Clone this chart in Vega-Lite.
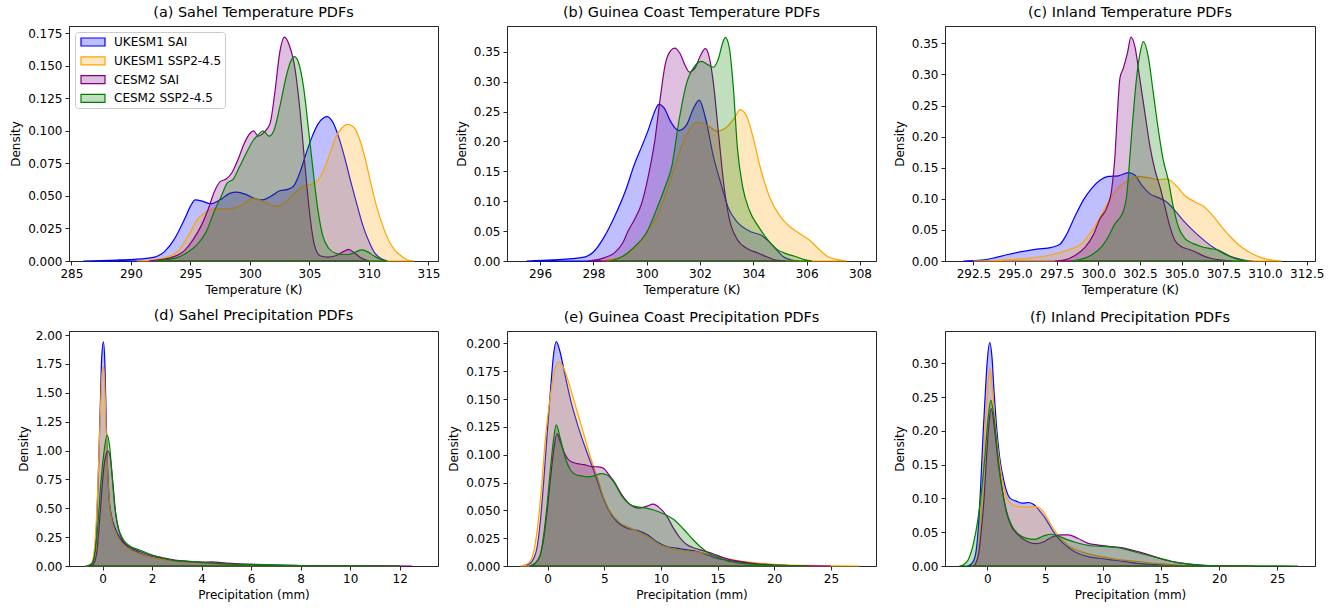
{
"$schema": "https://vega.github.io/schema/vega-lite/v6.json",
"background": "white",
"padding": {"left": 9, "top": 4, "right": 5, "bottom": 5},
"bounds": "flush",
"columns": 3,
"spacing": {"row": 70, "column": 69},
"datasets": {
"a": [
{"series":"UKESM1 SAI","x":286,"y":0},{"series":"UKESM1 SAI","x":287.5,"y":0.0003},{"series":"UKESM1 SAI","x":289,"y":0.0008},{"series":"UKESM1 SAI","x":290.3,"y":0.0013},{"series":"UKESM1 SAI","x":291.3,"y":0.002},{"series":"UKESM1 SAI","x":292,"y":0.003},{"series":"UKESM1 SAI","x":292.8,"y":0.007},{"series":"UKESM1 SAI","x":293.6,"y":0.016},{"series":"UKESM1 SAI","x":294.5,"y":0.032},{"series":"UKESM1 SAI","x":295,"y":0.042},{"series":"UKESM1 SAI","x":295.4,"y":0.047},{"series":"UKESM1 SAI","x":296,"y":0.046},{"series":"UKESM1 SAI","x":296.7,"y":0.044},{"series":"UKESM1 SAI","x":297.5,"y":0.047},{"series":"UKESM1 SAI","x":298.3,"y":0.052},{"series":"UKESM1 SAI","x":298.9,"y":0.053},{"series":"UKESM1 SAI","x":299.7,"y":0.051},{"series":"UKESM1 SAI","x":300.4,"y":0.048},{"series":"UKESM1 SAI","x":301.1,"y":0.047},{"series":"UKESM1 SAI","x":301.8,"y":0.05},{"series":"UKESM1 SAI","x":302.5,"y":0.054},{"series":"UKESM1 SAI","x":303.2,"y":0.055},{"series":"UKESM1 SAI","x":303.7,"y":0.058},{"series":"UKESM1 SAI","x":304.2,"y":0.068},{"series":"UKESM1 SAI","x":304.7,"y":0.082},{"series":"UKESM1 SAI","x":305.2,"y":0.095},{"series":"UKESM1 SAI","x":305.7,"y":0.105},{"series":"UKESM1 SAI","x":306.2,"y":0.11},{"series":"UKESM1 SAI","x":306.5,"y":0.111},{"series":"UKESM1 SAI","x":307,"y":0.106},{"series":"UKESM1 SAI","x":307.5,"y":0.094},{"series":"UKESM1 SAI","x":308,"y":0.078},{"series":"UKESM1 SAI","x":308.5,"y":0.06},{"series":"UKESM1 SAI","x":309,"y":0.043},{"series":"UKESM1 SAI","x":309.5,"y":0.027},{"series":"UKESM1 SAI","x":310,"y":0.015},{"series":"UKESM1 SAI","x":310.5,"y":0.006},{"series":"UKESM1 SAI","x":311,"y":0.002},{"series":"UKESM1 SAI","x":311.6,"y":0},
{"series":"UKESM1 SSP2-4.5","x":290.5,"y":0},{"series":"UKESM1 SSP2-4.5","x":292,"y":0.001},{"series":"UKESM1 SSP2-4.5","x":293,"y":0.003},{"series":"UKESM1 SSP2-4.5","x":294,"y":0.008},{"series":"UKESM1 SSP2-4.5","x":294.8,"y":0.019},{"series":"UKESM1 SSP2-4.5","x":295.6,"y":0.032},{"series":"UKESM1 SSP2-4.5","x":296.4,"y":0.038},{"series":"UKESM1 SSP2-4.5","x":297.2,"y":0.04},{"series":"UKESM1 SSP2-4.5","x":298,"y":0.04},{"series":"UKESM1 SSP2-4.5","x":298.8,"y":0.041},{"series":"UKESM1 SSP2-4.5","x":299.5,"y":0.044},{"series":"UKESM1 SSP2-4.5","x":300.2,"y":0.048},{"series":"UKESM1 SSP2-4.5","x":300.8,"y":0.047},{"series":"UKESM1 SSP2-4.5","x":301.5,"y":0.044},{"series":"UKESM1 SSP2-4.5","x":302.2,"y":0.042},{"series":"UKESM1 SSP2-4.5","x":302.8,"y":0.044},{"series":"UKESM1 SSP2-4.5","x":303.4,"y":0.049},{"series":"UKESM1 SSP2-4.5","x":304,"y":0.054},{"series":"UKESM1 SSP2-4.5","x":304.6,"y":0.058},{"series":"UKESM1 SSP2-4.5","x":305.2,"y":0.059},{"series":"UKESM1 SSP2-4.5","x":305.7,"y":0.062},{"series":"UKESM1 SSP2-4.5","x":306.2,"y":0.07},{"series":"UKESM1 SSP2-4.5","x":306.7,"y":0.082},{"series":"UKESM1 SSP2-4.5","x":307.2,"y":0.095},{"series":"UKESM1 SSP2-4.5","x":307.7,"y":0.102},{"series":"UKESM1 SSP2-4.5","x":308.2,"y":0.105},{"series":"UKESM1 SSP2-4.5","x":308.7,"y":0.103},{"series":"UKESM1 SSP2-4.5","x":309.2,"y":0.094},{"series":"UKESM1 SSP2-4.5","x":309.7,"y":0.078},{"series":"UKESM1 SSP2-4.5","x":310.2,"y":0.058},{"series":"UKESM1 SSP2-4.5","x":310.7,"y":0.04},{"series":"UKESM1 SSP2-4.5","x":311.2,"y":0.026},{"series":"UKESM1 SSP2-4.5","x":311.7,"y":0.015},{"series":"UKESM1 SSP2-4.5","x":312.2,"y":0.008},{"series":"UKESM1 SSP2-4.5","x":312.7,"y":0.004},{"series":"UKESM1 SSP2-4.5","x":313.2,"y":0.001},{"series":"UKESM1 SSP2-4.5","x":313.8,"y":0},
{"series":"CESM2 SAI","x":291.5,"y":0},{"series":"CESM2 SAI","x":292.5,"y":0.001},{"series":"CESM2 SAI","x":293.5,"y":0.003},{"series":"CESM2 SAI","x":294.5,"y":0.008},{"series":"CESM2 SAI","x":295.2,"y":0.016},{"series":"CESM2 SAI","x":295.9,"y":0.027},{"series":"CESM2 SAI","x":296.5,"y":0.04},{"series":"CESM2 SAI","x":297,"y":0.053},{"series":"CESM2 SAI","x":297.5,"y":0.061},{"series":"CESM2 SAI","x":298,"y":0.063},{"series":"CESM2 SAI","x":298.5,"y":0.068},{"series":"CESM2 SAI","x":299,"y":0.078},{"series":"CESM2 SAI","x":299.5,"y":0.09},{"series":"CESM2 SAI","x":300,"y":0.098},{"series":"CESM2 SAI","x":300.3,"y":0.1},{"series":"CESM2 SAI","x":300.7,"y":0.096},{"series":"CESM2 SAI","x":301.2,"y":0.099},{"series":"CESM2 SAI","x":301.7,"y":0.106},{"series":"CESM2 SAI","x":302.1,"y":0.13},{"series":"CESM2 SAI","x":302.5,"y":0.16},{"series":"CESM2 SAI","x":302.9,"y":0.172},{"series":"CESM2 SAI","x":303.3,"y":0.166},{"series":"CESM2 SAI","x":303.8,"y":0.147},{"series":"CESM2 SAI","x":304.2,"y":0.116},{"series":"CESM2 SAI","x":304.6,"y":0.076},{"series":"CESM2 SAI","x":305,"y":0.038},{"series":"CESM2 SAI","x":305.4,"y":0.013},{"series":"CESM2 SAI","x":305.9,"y":0.004},{"series":"CESM2 SAI","x":306.5,"y":0.003},{"series":"CESM2 SAI","x":307.2,"y":0.004},{"series":"CESM2 SAI","x":307.8,"y":0.007},{"series":"CESM2 SAI","x":308.3,"y":0.009},{"series":"CESM2 SAI","x":308.8,"y":0.006},{"series":"CESM2 SAI","x":309.4,"y":0.002},{"series":"CESM2 SAI","x":310,"y":0},
{"series":"CESM2 SSP2-4.5","x":292,"y":0},{"series":"CESM2 SSP2-4.5","x":293,"y":0.001},{"series":"CESM2 SSP2-4.5","x":294,"y":0.003},{"series":"CESM2 SSP2-4.5","x":294.8,"y":0.007},{"series":"CESM2 SSP2-4.5","x":295.6,"y":0.013},{"series":"CESM2 SSP2-4.5","x":296.3,"y":0.022},{"series":"CESM2 SSP2-4.5","x":297,"y":0.038},{"series":"CESM2 SSP2-4.5","x":297.6,"y":0.05},{"series":"CESM2 SSP2-4.5","x":298.1,"y":0.06},{"series":"CESM2 SSP2-4.5","x":298.6,"y":0.063},{"series":"CESM2 SSP2-4.5","x":299.1,"y":0.072},{"series":"CESM2 SSP2-4.5","x":299.7,"y":0.083},{"series":"CESM2 SSP2-4.5","x":300.3,"y":0.093},{"series":"CESM2 SSP2-4.5","x":300.7,"y":0.097},{"series":"CESM2 SSP2-4.5","x":301.1,"y":0.1},{"series":"CESM2 SSP2-4.5","x":301.6,"y":0.096},{"series":"CESM2 SSP2-4.5","x":302,"y":0.1},{"series":"CESM2 SSP2-4.5","x":302.5,"y":0.118},{"series":"CESM2 SSP2-4.5","x":303,"y":0.14},{"series":"CESM2 SSP2-4.5","x":303.4,"y":0.153},{"series":"CESM2 SSP2-4.5","x":303.75,"y":0.157},{"series":"CESM2 SSP2-4.5","x":304.1,"y":0.152},{"series":"CESM2 SSP2-4.5","x":304.5,"y":0.134},{"series":"CESM2 SSP2-4.5","x":304.9,"y":0.103},{"series":"CESM2 SSP2-4.5","x":305.3,"y":0.07},{"series":"CESM2 SSP2-4.5","x":305.7,"y":0.04},{"series":"CESM2 SSP2-4.5","x":306.1,"y":0.02},{"series":"CESM2 SSP2-4.5","x":306.6,"y":0.01},{"series":"CESM2 SSP2-4.5","x":307.2,"y":0.006},{"series":"CESM2 SSP2-4.5","x":307.8,"y":0.005},{"series":"CESM2 SSP2-4.5","x":308.3,"y":0.005},{"series":"CESM2 SSP2-4.5","x":308.9,"y":0.007},{"series":"CESM2 SSP2-4.5","x":309.4,"y":0.0085},{"series":"CESM2 SSP2-4.5","x":309.9,"y":0.007},{"series":"CESM2 SSP2-4.5","x":310.4,"y":0.004},{"series":"CESM2 SSP2-4.5","x":310.9,"y":0.0015},{"series":"CESM2 SSP2-4.5","x":311.5,"y":0}
],
"b": [
{"series":"UKESM1 SAI","x":295.5,"y":0},{"series":"UKESM1 SAI","x":296.5,"y":0.002},{"series":"UKESM1 SAI","x":297.2,"y":0.004},{"series":"UKESM1 SAI","x":297.7,"y":0.007},{"series":"UKESM1 SAI","x":298,"y":0.015},{"series":"UKESM1 SAI","x":298.4,"y":0.04},{"series":"UKESM1 SAI","x":298.8,"y":0.075},{"series":"UKESM1 SAI","x":299.2,"y":0.117},{"series":"UKESM1 SAI","x":299.55,"y":0.163},{"series":"UKESM1 SAI","x":299.8,"y":0.19},{"series":"UKESM1 SAI","x":300.05,"y":0.218},{"series":"UKESM1 SAI","x":300.3,"y":0.25},{"series":"UKESM1 SAI","x":300.45,"y":0.262},{"series":"UKESM1 SAI","x":300.65,"y":0.256},{"series":"UKESM1 SAI","x":300.9,"y":0.233},{"series":"UKESM1 SAI","x":301.2,"y":0.218},{"series":"UKESM1 SAI","x":301.5,"y":0.228},{"series":"UKESM1 SAI","x":301.75,"y":0.255},{"series":"UKESM1 SAI","x":301.97,"y":0.269},{"series":"UKESM1 SAI","x":302.2,"y":0.24},{"series":"UKESM1 SAI","x":302.5,"y":0.175},{"series":"UKESM1 SAI","x":302.8,"y":0.127},{"series":"UKESM1 SAI","x":303.05,"y":0.09},{"series":"UKESM1 SAI","x":303.4,"y":0.065},{"series":"UKESM1 SAI","x":303.9,"y":0.049},{"series":"UKESM1 SAI","x":304.3,"y":0.043},{"series":"UKESM1 SAI","x":304.6,"y":0.032},{"series":"UKESM1 SAI","x":304.85,"y":0.02},{"series":"UKESM1 SAI","x":305.1,"y":0.008},{"series":"UKESM1 SAI","x":305.4,"y":0.002},{"series":"UKESM1 SAI","x":305.7,"y":0},
{"series":"UKESM1 SSP2-4.5","x":298.3,"y":0},{"series":"UKESM1 SSP2-4.5","x":298.7,"y":0.003},{"series":"UKESM1 SSP2-4.5","x":299.1,"y":0.007},{"series":"UKESM1 SSP2-4.5","x":299.6,"y":0.025},{"series":"UKESM1 SSP2-4.5","x":300,"y":0.048},{"series":"UKESM1 SSP2-4.5","x":300.3,"y":0.068},{"series":"UKESM1 SSP2-4.5","x":300.7,"y":0.11},{"series":"UKESM1 SSP2-4.5","x":301.1,"y":0.165},{"series":"UKESM1 SSP2-4.5","x":301.5,"y":0.212},{"series":"UKESM1 SSP2-4.5","x":301.9,"y":0.232},{"series":"UKESM1 SSP2-4.5","x":302.3,"y":0.226},{"series":"UKESM1 SSP2-4.5","x":302.65,"y":0.217},{"series":"UKESM1 SSP2-4.5","x":303,"y":0.224},{"series":"UKESM1 SSP2-4.5","x":303.3,"y":0.24},{"series":"UKESM1 SSP2-4.5","x":303.5,"y":0.253},{"series":"UKESM1 SSP2-4.5","x":303.75,"y":0.242},{"series":"UKESM1 SSP2-4.5","x":304,"y":0.205},{"series":"UKESM1 SSP2-4.5","x":304.25,"y":0.158},{"series":"UKESM1 SSP2-4.5","x":304.6,"y":0.108},{"series":"UKESM1 SSP2-4.5","x":305,"y":0.075},{"series":"UKESM1 SSP2-4.5","x":305.35,"y":0.058},{"series":"UKESM1 SSP2-4.5","x":305.7,"y":0.047},{"series":"UKESM1 SSP2-4.5","x":306.1,"y":0.035},{"series":"UKESM1 SSP2-4.5","x":306.45,"y":0.02},{"series":"UKESM1 SSP2-4.5","x":306.8,"y":0.007},{"series":"UKESM1 SSP2-4.5","x":307.2,"y":0.002},{"series":"UKESM1 SSP2-4.5","x":307.5,"y":0},
{"series":"CESM2 SAI","x":297.8,"y":0},{"series":"CESM2 SAI","x":298.3,"y":0.004},{"series":"CESM2 SAI","x":298.8,"y":0.014},{"series":"CESM2 SAI","x":299.1,"y":0.03},{"series":"CESM2 SAI","x":299.3,"y":0.05},{"series":"CESM2 SAI","x":299.55,"y":0.07},{"series":"CESM2 SAI","x":299.8,"y":0.095},{"series":"CESM2 SAI","x":300.05,"y":0.14},{"series":"CESM2 SAI","x":300.3,"y":0.2},{"series":"CESM2 SAI","x":300.5,"y":0.27},{"series":"CESM2 SAI","x":300.7,"y":0.33},{"series":"CESM2 SAI","x":300.9,"y":0.352},{"series":"CESM2 SAI","x":301.05,"y":0.356},{"series":"CESM2 SAI","x":301.25,"y":0.347},{"series":"CESM2 SAI","x":301.45,"y":0.326},{"series":"CESM2 SAI","x":301.6,"y":0.316},{"series":"CESM2 SAI","x":301.8,"y":0.322},{"series":"CESM2 SAI","x":302,"y":0.342},{"series":"CESM2 SAI","x":302.2,"y":0.355},{"series":"CESM2 SAI","x":302.35,"y":0.34},{"series":"CESM2 SAI","x":302.5,"y":0.298},{"series":"CESM2 SAI","x":302.7,"y":0.21},{"series":"CESM2 SAI","x":302.9,"y":0.125},{"series":"CESM2 SAI","x":303.1,"y":0.07},{"series":"CESM2 SAI","x":303.4,"y":0.036},{"series":"CESM2 SAI","x":303.8,"y":0.02},{"series":"CESM2 SAI","x":304.2,"y":0.013},{"series":"CESM2 SAI","x":304.5,"y":0.007},{"series":"CESM2 SAI","x":304.9,"y":0.001},{"series":"CESM2 SAI","x":305.2,"y":0},
{"series":"CESM2 SSP2-4.5","x":298.6,"y":0},{"series":"CESM2 SSP2-4.5","x":299.1,"y":0.008},{"series":"CESM2 SSP2-4.5","x":299.5,"y":0.022},{"series":"CESM2 SSP2-4.5","x":300,"y":0.048},{"series":"CESM2 SSP2-4.5","x":300.4,"y":0.09},{"series":"CESM2 SSP2-4.5","x":300.7,"y":0.125},{"series":"CESM2 SSP2-4.5","x":300.95,"y":0.16},{"series":"CESM2 SSP2-4.5","x":301.2,"y":0.232},{"series":"CESM2 SSP2-4.5","x":301.5,"y":0.298},{"series":"CESM2 SSP2-4.5","x":301.8,"y":0.326},{"series":"CESM2 SSP2-4.5","x":302.05,"y":0.334},{"series":"CESM2 SSP2-4.5","x":302.3,"y":0.328},{"series":"CESM2 SSP2-4.5","x":302.5,"y":0.324},{"series":"CESM2 SSP2-4.5","x":302.7,"y":0.34},{"series":"CESM2 SSP2-4.5","x":302.85,"y":0.365},{"series":"CESM2 SSP2-4.5","x":302.95,"y":0.374},{"series":"CESM2 SSP2-4.5","x":303.1,"y":0.356},{"series":"CESM2 SSP2-4.5","x":303.25,"y":0.29},{"series":"CESM2 SSP2-4.5","x":303.4,"y":0.19},{"series":"CESM2 SSP2-4.5","x":303.6,"y":0.124},{"series":"CESM2 SSP2-4.5","x":303.85,"y":0.085},{"series":"CESM2 SSP2-4.5","x":304.2,"y":0.057},{"series":"CESM2 SSP2-4.5","x":304.55,"y":0.035},{"series":"CESM2 SSP2-4.5","x":304.9,"y":0.019},{"series":"CESM2 SSP2-4.5","x":305.25,"y":0.012},{"series":"CESM2 SSP2-4.5","x":305.55,"y":0.008},{"series":"CESM2 SSP2-4.5","x":305.95,"y":0.002},{"series":"CESM2 SSP2-4.5","x":306.2,"y":0}
],
"c": [
{"series":"UKESM1 SAI","x":291.9,"y":0},{"series":"UKESM1 SAI","x":292.8,"y":0.001},{"series":"UKESM1 SAI","x":293.6,"y":0.004},{"series":"UKESM1 SAI","x":294.5,"y":0.01},{"series":"UKESM1 SAI","x":295.4,"y":0.015},{"series":"UKESM1 SAI","x":296.3,"y":0.019},{"series":"UKESM1 SAI","x":297.2,"y":0.022},{"series":"UKESM1 SAI","x":297.7,"y":0.027},{"series":"UKESM1 SAI","x":298.1,"y":0.043},{"series":"UKESM1 SAI","x":298.6,"y":0.072},{"series":"UKESM1 SAI","x":299.1,"y":0.098},{"series":"UKESM1 SAI","x":299.6,"y":0.117},{"series":"UKESM1 SAI","x":300.1,"y":0.13},{"series":"UKESM1 SAI","x":300.6,"y":0.136},{"series":"UKESM1 SAI","x":301.2,"y":0.137},{"series":"UKESM1 SAI","x":301.8,"y":0.142},{"series":"UKESM1 SAI","x":302.2,"y":0.138},{"series":"UKESM1 SAI","x":302.6,"y":0.122},{"series":"UKESM1 SAI","x":303.1,"y":0.108},{"series":"UKESM1 SAI","x":303.6,"y":0.102},{"series":"UKESM1 SAI","x":304.1,"y":0.095},{"series":"UKESM1 SAI","x":304.6,"y":0.081},{"series":"UKESM1 SAI","x":305.2,"y":0.062},{"series":"UKESM1 SAI","x":305.8,"y":0.046},{"series":"UKESM1 SAI","x":306.4,"y":0.032},{"series":"UKESM1 SAI","x":307,"y":0.02},{"series":"UKESM1 SAI","x":307.6,"y":0.011},{"series":"UKESM1 SAI","x":308.2,"y":0.005},{"series":"UKESM1 SAI","x":308.8,"y":0.001},{"series":"UKESM1 SAI","x":309.3,"y":0},
{"series":"UKESM1 SSP2-4.5","x":292.5,"y":0},{"series":"UKESM1 SSP2-4.5","x":294.5,"y":0.002},{"series":"UKESM1 SSP2-4.5","x":296,"y":0.005},{"series":"UKESM1 SSP2-4.5","x":297.2,"y":0.01},{"series":"UKESM1 SSP2-4.5","x":298.2,"y":0.018},{"series":"UKESM1 SSP2-4.5","x":299,"y":0.028},{"series":"UKESM1 SSP2-4.5","x":299.6,"y":0.048},{"series":"UKESM1 SSP2-4.5","x":300.2,"y":0.075},{"series":"UKESM1 SSP2-4.5","x":300.7,"y":0.1},{"series":"UKESM1 SSP2-4.5","x":301.2,"y":0.118},{"series":"UKESM1 SSP2-4.5","x":301.8,"y":0.13},{"series":"UKESM1 SSP2-4.5","x":302.4,"y":0.136},{"series":"UKESM1 SSP2-4.5","x":303,"y":0.134},{"series":"UKESM1 SSP2-4.5","x":303.6,"y":0.131},{"series":"UKESM1 SSP2-4.5","x":304.1,"y":0.132},{"series":"UKESM1 SSP2-4.5","x":304.6,"y":0.123},{"series":"UKESM1 SSP2-4.5","x":305.2,"y":0.105},{"series":"UKESM1 SSP2-4.5","x":305.8,"y":0.095},{"series":"UKESM1 SSP2-4.5","x":306.3,"y":0.088},{"series":"UKESM1 SSP2-4.5","x":306.8,"y":0.075},{"series":"UKESM1 SSP2-4.5","x":307.4,"y":0.055},{"series":"UKESM1 SSP2-4.5","x":308,"y":0.037},{"series":"UKESM1 SSP2-4.5","x":308.6,"y":0.022},{"series":"UKESM1 SSP2-4.5","x":309.2,"y":0.012},{"series":"UKESM1 SSP2-4.5","x":309.8,"y":0.005},{"series":"UKESM1 SSP2-4.5","x":310.5,"y":0.001},{"series":"UKESM1 SSP2-4.5","x":311,"y":0},
{"series":"CESM2 SAI","x":297.4,"y":0},{"series":"CESM2 SAI","x":298,"y":0.002},{"series":"CESM2 SAI","x":298.6,"y":0.009},{"series":"CESM2 SAI","x":299.2,"y":0.022},{"series":"CESM2 SAI","x":299.7,"y":0.042},{"series":"CESM2 SAI","x":300.1,"y":0.068},{"series":"CESM2 SAI","x":300.5,"y":0.085},{"series":"CESM2 SAI","x":300.8,"y":0.115},{"series":"CESM2 SAI","x":301,"y":0.17},{"series":"CESM2 SAI","x":301.15,"y":0.24},{"series":"CESM2 SAI","x":301.3,"y":0.295},{"series":"CESM2 SAI","x":301.5,"y":0.31},{"series":"CESM2 SAI","x":301.75,"y":0.335},{"series":"CESM2 SAI","x":301.96,"y":0.36},{"series":"CESM2 SAI","x":302.2,"y":0.344},{"series":"CESM2 SAI","x":302.5,"y":0.291},{"series":"CESM2 SAI","x":302.8,"y":0.237},{"series":"CESM2 SAI","x":303.1,"y":0.184},{"series":"CESM2 SAI","x":303.4,"y":0.146},{"series":"CESM2 SAI","x":303.7,"y":0.119},{"series":"CESM2 SAI","x":304,"y":0.087},{"series":"CESM2 SAI","x":304.3,"y":0.055},{"series":"CESM2 SAI","x":304.6,"y":0.033},{"series":"CESM2 SAI","x":305,"y":0.023},{"series":"CESM2 SAI","x":305.4,"y":0.019},{"series":"CESM2 SAI","x":305.8,"y":0.015},{"series":"CESM2 SAI","x":306.2,"y":0.0095},{"series":"CESM2 SAI","x":306.8,"y":0.004},{"series":"CESM2 SAI","x":307.4,"y":0.0015},{"series":"CESM2 SAI","x":308,"y":0},
{"series":"CESM2 SSP2-4.5","x":298.4,"y":0},{"series":"CESM2 SSP2-4.5","x":299,"y":0.003},{"series":"CESM2 SSP2-4.5","x":299.6,"y":0.0095},{"series":"CESM2 SSP2-4.5","x":300.2,"y":0.023},{"series":"CESM2 SSP2-4.5","x":300.6,"y":0.039},{"series":"CESM2 SSP2-4.5","x":301,"y":0.06},{"series":"CESM2 SSP2-4.5","x":301.3,"y":0.07},{"series":"CESM2 SSP2-4.5","x":301.5,"y":0.08},{"series":"CESM2 SSP2-4.5","x":301.7,"y":0.105},{"series":"CESM2 SSP2-4.5","x":301.9,"y":0.17},{"series":"CESM2 SSP2-4.5","x":302.1,"y":0.238},{"series":"CESM2 SSP2-4.5","x":302.3,"y":0.296},{"series":"CESM2 SSP2-4.5","x":302.5,"y":0.334},{"series":"CESM2 SSP2-4.5","x":302.7,"y":0.353},{"series":"CESM2 SSP2-4.5","x":303,"y":0.328},{"series":"CESM2 SSP2-4.5","x":303.3,"y":0.27},{"series":"CESM2 SSP2-4.5","x":303.6,"y":0.211},{"series":"CESM2 SSP2-4.5","x":303.9,"y":0.162},{"series":"CESM2 SSP2-4.5","x":304.2,"y":0.13},{"series":"CESM2 SSP2-4.5","x":304.5,"y":0.087},{"series":"CESM2 SSP2-4.5","x":304.8,"y":0.055},{"series":"CESM2 SSP2-4.5","x":305.2,"y":0.036},{"series":"CESM2 SSP2-4.5","x":305.7,"y":0.028},{"series":"CESM2 SSP2-4.5","x":306.2,"y":0.023},{"series":"CESM2 SSP2-4.5","x":306.7,"y":0.02},{"series":"CESM2 SSP2-4.5","x":307.2,"y":0.0175},{"series":"CESM2 SSP2-4.5","x":307.6,"y":0.012},{"series":"CESM2 SSP2-4.5","x":308,"y":0.006},{"series":"CESM2 SSP2-4.5","x":308.6,"y":0.0015},{"series":"CESM2 SSP2-4.5","x":309,"y":0}
],
"d": [
{"series":"UKESM1 SAI","x":-0.7,"y":0},{"series":"UKESM1 SAI","x":-0.5,"y":0.005},{"series":"UKESM1 SAI","x":-0.38,"y":0.04},{"series":"UKESM1 SAI","x":-0.27,"y":0.25},{"series":"UKESM1 SAI","x":-0.18,"y":0.75},{"series":"UKESM1 SAI","x":-0.1,"y":1.35},{"series":"UKESM1 SAI","x":-0.04,"y":1.8},{"series":"UKESM1 SAI","x":0.03,"y":1.94},{"series":"UKESM1 SAI","x":0.09,"y":1.75},{"series":"UKESM1 SAI","x":0.14,"y":1.3},{"series":"UKESM1 SAI","x":0.19,"y":0.9},{"series":"UKESM1 SAI","x":0.25,"y":0.62},{"series":"UKESM1 SAI","x":0.35,"y":0.44},{"series":"UKESM1 SAI","x":0.5,"y":0.33},{"series":"UKESM1 SAI","x":0.7,"y":0.24},{"series":"UKESM1 SAI","x":1,"y":0.17},{"series":"UKESM1 SAI","x":1.5,"y":0.11},{"series":"UKESM1 SAI","x":2,"y":0.08},{"series":"UKESM1 SAI","x":2.5,"y":0.06},{"series":"UKESM1 SAI","x":3,"y":0.045},{"series":"UKESM1 SAI","x":3.5,"y":0.038},{"series":"UKESM1 SAI","x":4,"y":0.03},{"series":"UKESM1 SAI","x":4.5,"y":0.024},{"series":"UKESM1 SAI","x":5,"y":0.018},{"series":"UKESM1 SAI","x":6,"y":0.01},{"series":"UKESM1 SAI","x":7,"y":0.005},{"series":"UKESM1 SAI","x":8,"y":0.002},{"series":"UKESM1 SAI","x":10,"y":0.0005},{"series":"UKESM1 SAI","x":12,"y":0},
{"series":"UKESM1 SSP2-4.5","x":-0.7,"y":0},{"series":"UKESM1 SSP2-4.5","x":-0.5,"y":0.008},{"series":"UKESM1 SSP2-4.5","x":-0.4,"y":0.05},{"series":"UKESM1 SSP2-4.5","x":-0.29,"y":0.27},{"series":"UKESM1 SSP2-4.5","x":-0.19,"y":0.72},{"series":"UKESM1 SSP2-4.5","x":-0.1,"y":1.3},{"series":"UKESM1 SSP2-4.5","x":-0.03,"y":1.65},{"series":"UKESM1 SSP2-4.5","x":0.02,"y":1.726},{"series":"UKESM1 SSP2-4.5","x":0.08,"y":1.6},{"series":"UKESM1 SSP2-4.5","x":0.14,"y":1.2},{"series":"UKESM1 SSP2-4.5","x":0.2,"y":0.82},{"series":"UKESM1 SSP2-4.5","x":0.27,"y":0.56},{"series":"UKESM1 SSP2-4.5","x":0.37,"y":0.4},{"series":"UKESM1 SSP2-4.5","x":0.5,"y":0.31},{"series":"UKESM1 SSP2-4.5","x":0.7,"y":0.22},{"series":"UKESM1 SSP2-4.5","x":1,"y":0.16},{"series":"UKESM1 SSP2-4.5","x":1.5,"y":0.105},{"series":"UKESM1 SSP2-4.5","x":2,"y":0.075},{"series":"UKESM1 SSP2-4.5","x":2.5,"y":0.055},{"series":"UKESM1 SSP2-4.5","x":3,"y":0.042},{"series":"UKESM1 SSP2-4.5","x":3.5,"y":0.034},{"series":"UKESM1 SSP2-4.5","x":4,"y":0.028},{"series":"UKESM1 SSP2-4.5","x":4.5,"y":0.022},{"series":"UKESM1 SSP2-4.5","x":5,"y":0.016},{"series":"UKESM1 SSP2-4.5","x":6,"y":0.009},{"series":"UKESM1 SSP2-4.5","x":7,"y":0.004},{"series":"UKESM1 SSP2-4.5","x":8,"y":0.0015},{"series":"UKESM1 SSP2-4.5","x":10,"y":0.0004},{"series":"UKESM1 SSP2-4.5","x":12,"y":0},
{"series":"CESM2 SAI","x":-0.6,"y":0},{"series":"CESM2 SAI","x":-0.4,"y":0.01},{"series":"CESM2 SAI","x":-0.25,"y":0.1},{"series":"CESM2 SAI","x":-0.12,"y":0.4},{"series":"CESM2 SAI","x":0,"y":0.75},{"series":"CESM2 SAI","x":0.1,"y":0.93},{"series":"CESM2 SAI","x":0.22,"y":0.996},{"series":"CESM2 SAI","x":0.32,"y":0.92},{"series":"CESM2 SAI","x":0.42,"y":0.7},{"series":"CESM2 SAI","x":0.52,"y":0.47},{"series":"CESM2 SAI","x":0.65,"y":0.31},{"series":"CESM2 SAI","x":0.85,"y":0.21},{"series":"CESM2 SAI","x":1.1,"y":0.165},{"series":"CESM2 SAI","x":1.5,"y":0.125},{"series":"CESM2 SAI","x":2,"y":0.092},{"series":"CESM2 SAI","x":2.5,"y":0.068},{"series":"CESM2 SAI","x":3,"y":0.048},{"series":"CESM2 SAI","x":3.5,"y":0.038},{"series":"CESM2 SAI","x":4,"y":0.034},{"series":"CESM2 SAI","x":4.4,"y":0.035},{"series":"CESM2 SAI","x":5,"y":0.025},{"series":"CESM2 SAI","x":6,"y":0.014},{"series":"CESM2 SAI","x":7,"y":0.008},{"series":"CESM2 SAI","x":8,"y":0.004},{"series":"CESM2 SAI","x":9,"y":0.002},{"series":"CESM2 SAI","x":10,"y":0.001},{"series":"CESM2 SAI","x":12.5,"y":0},
{"series":"CESM2 SSP2-4.5","x":-0.65,"y":0},{"series":"CESM2 SSP2-4.5","x":-0.45,"y":0.02},{"series":"CESM2 SSP2-4.5","x":-0.33,"y":0.09},{"series":"CESM2 SSP2-4.5","x":-0.2,"y":0.34},{"series":"CESM2 SSP2-4.5","x":-0.08,"y":0.7},{"series":"CESM2 SSP2-4.5","x":0.05,"y":0.98},{"series":"CESM2 SSP2-4.5","x":0.18,"y":1.134},{"series":"CESM2 SSP2-4.5","x":0.28,"y":1.04},{"series":"CESM2 SSP2-4.5","x":0.38,"y":0.79},{"series":"CESM2 SSP2-4.5","x":0.48,"y":0.53},{"series":"CESM2 SSP2-4.5","x":0.6,"y":0.36},{"series":"CESM2 SSP2-4.5","x":0.8,"y":0.24},{"series":"CESM2 SSP2-4.5","x":1.05,"y":0.18},{"series":"CESM2 SSP2-4.5","x":1.5,"y":0.138},{"series":"CESM2 SSP2-4.5","x":2,"y":0.095},{"series":"CESM2 SSP2-4.5","x":2.5,"y":0.065},{"series":"CESM2 SSP2-4.5","x":3,"y":0.045},{"series":"CESM2 SSP2-4.5","x":3.4,"y":0.042},{"series":"CESM2 SSP2-4.5","x":3.8,"y":0.036},{"series":"CESM2 SSP2-4.5","x":4.4,"y":0.025},{"series":"CESM2 SSP2-4.5","x":5,"y":0.018},{"series":"CESM2 SSP2-4.5","x":5.7,"y":0.014},{"series":"CESM2 SSP2-4.5","x":6.2,"y":0.015},{"series":"CESM2 SSP2-4.5","x":6.8,"y":0.01},{"series":"CESM2 SSP2-4.5","x":7.5,"y":0.005},{"series":"CESM2 SSP2-4.5","x":8.5,"y":0.002},{"series":"CESM2 SSP2-4.5","x":10,"y":0.0005},{"series":"CESM2 SSP2-4.5","x":12,"y":0}
],
"e": [
{"series":"UKESM1 SAI","x":-2.3,"y":0},{"series":"UKESM1 SAI","x":-1.8,"y":0.001},{"series":"UKESM1 SAI","x":-1.4,"y":0.004},{"series":"UKESM1 SAI","x":-0.95,"y":0.016},{"series":"UKESM1 SAI","x":-0.65,"y":0.04},{"series":"UKESM1 SAI","x":-0.35,"y":0.076},{"series":"UKESM1 SAI","x":-0.05,"y":0.118},{"series":"UKESM1 SAI","x":0.25,"y":0.158},{"series":"UKESM1 SAI","x":0.5,"y":0.188},{"series":"UKESM1 SAI","x":0.76,"y":0.2015},{"series":"UKESM1 SAI","x":1.05,"y":0.194},{"series":"UKESM1 SAI","x":1.5,"y":0.173},{"series":"UKESM1 SAI","x":2.1,"y":0.146},{"series":"UKESM1 SAI","x":2.7,"y":0.125},{"series":"UKESM1 SAI","x":3.4,"y":0.104},{"series":"UKESM1 SAI","x":4.2,"y":0.082},{"series":"UKESM1 SAI","x":4.8,"y":0.064},{"series":"UKESM1 SAI","x":5.3,"y":0.052},{"series":"UKESM1 SAI","x":6.1,"y":0.04},{"series":"UKESM1 SAI","x":7,"y":0.034},{"series":"UKESM1 SAI","x":7.9,"y":0.032},{"series":"UKESM1 SAI","x":8.8,"y":0.028},{"series":"UKESM1 SAI","x":9.6,"y":0.022},{"series":"UKESM1 SAI","x":10.5,"y":0.0175},{"series":"UKESM1 SAI","x":11.4,"y":0.016},{"series":"UKESM1 SAI","x":12.3,"y":0.0145},{"series":"UKESM1 SAI","x":13.2,"y":0.013},{"series":"UKESM1 SAI","x":14.1,"y":0.01},{"series":"UKESM1 SAI","x":14.9,"y":0.007},{"series":"UKESM1 SAI","x":15.8,"y":0.0054},{"series":"UKESM1 SAI","x":17,"y":0.0034},{"series":"UKESM1 SAI","x":18.2,"y":0.002},{"series":"UKESM1 SAI","x":19.4,"y":0.001},{"series":"UKESM1 SAI","x":21,"y":0.0004},{"series":"UKESM1 SAI","x":23,"y":0.0001},{"series":"UKESM1 SAI","x":24.5,"y":0},
{"series":"UKESM1 SSP2-4.5","x":-2.4,"y":0},{"series":"UKESM1 SSP2-4.5","x":-1.95,"y":0.001},{"series":"UKESM1 SSP2-4.5","x":-1.5,"y":0.005},{"series":"UKESM1 SSP2-4.5","x":-1.1,"y":0.02},{"series":"UKESM1 SSP2-4.5","x":-0.8,"y":0.043},{"series":"UKESM1 SSP2-4.5","x":-0.5,"y":0.076},{"series":"UKESM1 SSP2-4.5","x":-0.2,"y":0.115},{"series":"UKESM1 SSP2-4.5","x":0.2,"y":0.15},{"series":"UKESM1 SSP2-4.5","x":0.6,"y":0.175},{"series":"UKESM1 SSP2-4.5","x":0.97,"y":0.1836},{"series":"UKESM1 SSP2-4.5","x":1.4,"y":0.178},{"series":"UKESM1 SSP2-4.5","x":2,"y":0.16},{"series":"UKESM1 SSP2-4.5","x":2.6,"y":0.139},{"series":"UKESM1 SSP2-4.5","x":3.2,"y":0.118},{"series":"UKESM1 SSP2-4.5","x":3.8,"y":0.097},{"series":"UKESM1 SSP2-4.5","x":4.4,"y":0.079},{"series":"UKESM1 SSP2-4.5","x":4.95,"y":0.061},{"series":"UKESM1 SSP2-4.5","x":5.5,"y":0.049},{"series":"UKESM1 SSP2-4.5","x":6.4,"y":0.0385},{"series":"UKESM1 SSP2-4.5","x":7.3,"y":0.034},{"series":"UKESM1 SSP2-4.5","x":8.2,"y":0.03},{"series":"UKESM1 SSP2-4.5","x":9.1,"y":0.025},{"series":"UKESM1 SSP2-4.5","x":9.95,"y":0.019},{"series":"UKESM1 SSP2-4.5","x":10.8,"y":0.016},{"series":"UKESM1 SSP2-4.5","x":11.7,"y":0.0144},{"series":"UKESM1 SSP2-4.5","x":12.9,"y":0.013},{"series":"UKESM1 SSP2-4.5","x":13.8,"y":0.0115},{"series":"UKESM1 SSP2-4.5","x":14.7,"y":0.009},{"series":"UKESM1 SSP2-4.5","x":15.8,"y":0.0066},{"series":"UKESM1 SSP2-4.5","x":17,"y":0.0045},{"series":"UKESM1 SSP2-4.5","x":18.2,"y":0.003},{"series":"UKESM1 SSP2-4.5","x":19.4,"y":0.002},{"series":"UKESM1 SSP2-4.5","x":21,"y":0.001},{"series":"UKESM1 SSP2-4.5","x":23,"y":0.0005},{"series":"UKESM1 SSP2-4.5","x":25,"y":0.0002},{"series":"UKESM1 SSP2-4.5","x":27.5,"y":0},
{"series":"CESM2 SAI","x":-1.6,"y":0},{"series":"CESM2 SAI","x":-1.1,"y":0.0025},{"series":"CESM2 SAI","x":-0.65,"y":0.01},{"series":"CESM2 SAI","x":-0.35,"y":0.025},{"series":"CESM2 SAI","x":-0.05,"y":0.049},{"series":"CESM2 SAI","x":0.25,"y":0.079},{"series":"CESM2 SAI","x":0.52,"y":0.103},{"series":"CESM2 SAI","x":0.82,"y":0.119},{"series":"CESM2 SAI","x":1.1,"y":0.112},{"series":"CESM2 SAI","x":1.55,"y":0.1},{"series":"CESM2 SAI","x":2,"y":0.094},{"series":"CESM2 SAI","x":2.6,"y":0.092},{"series":"CESM2 SAI","x":3.2,"y":0.091},{"series":"CESM2 SAI","x":3.9,"y":0.0893},{"series":"CESM2 SAI","x":4.5,"y":0.089},{"series":"CESM2 SAI","x":4.95,"y":0.0875},{"series":"CESM2 SAI","x":5.4,"y":0.082},{"series":"CESM2 SAI","x":5.85,"y":0.076},{"series":"CESM2 SAI","x":6.55,"y":0.064},{"series":"CESM2 SAI","x":7.3,"y":0.055},{"series":"CESM2 SAI","x":8,"y":0.052},{"series":"CESM2 SAI","x":8.7,"y":0.0535},{"series":"CESM2 SAI","x":9.3,"y":0.0555},{"series":"CESM2 SAI","x":9.9,"y":0.052},{"series":"CESM2 SAI","x":10.5,"y":0.045},{"series":"CESM2 SAI","x":11.1,"y":0.034},{"series":"CESM2 SAI","x":11.7,"y":0.025},{"series":"CESM2 SAI","x":12.3,"y":0.019},{"series":"CESM2 SAI","x":13,"y":0.016},{"series":"CESM2 SAI","x":13.8,"y":0.0135},{"series":"CESM2 SAI","x":14.6,"y":0.011},{"series":"CESM2 SAI","x":15.5,"y":0.0075},{"series":"CESM2 SAI","x":16.5,"y":0.0048},{"series":"CESM2 SAI","x":17.5,"y":0.0033},{"series":"CESM2 SAI","x":18.5,"y":0.002},{"series":"CESM2 SAI","x":19.5,"y":0.0012},{"series":"CESM2 SAI","x":21,"y":0.0005},{"series":"CESM2 SAI","x":23,"y":0.0001},{"series":"CESM2 SAI","x":25,"y":0},
{"series":"CESM2 SSP2-4.5","x":-1.6,"y":0},{"series":"CESM2 SSP2-4.5","x":-1.1,"y":0.0025},{"series":"CESM2 SSP2-4.5","x":-0.65,"y":0.01},{"series":"CESM2 SSP2-4.5","x":-0.35,"y":0.028},{"series":"CESM2 SSP2-4.5","x":-0.05,"y":0.055},{"series":"CESM2 SSP2-4.5","x":0.25,"y":0.088},{"series":"CESM2 SSP2-4.5","x":0.5,"y":0.112},{"series":"CESM2 SSP2-4.5","x":0.76,"y":0.1267},{"series":"CESM2 SSP2-4.5","x":1.1,"y":0.115},{"series":"CESM2 SSP2-4.5","x":1.55,"y":0.097},{"series":"CESM2 SSP2-4.5","x":2,"y":0.0865},{"series":"CESM2 SSP2-4.5","x":2.5,"y":0.082},{"series":"CESM2 SSP2-4.5","x":3,"y":0.081},{"series":"CESM2 SSP2-4.5","x":3.5,"y":0.08},{"series":"CESM2 SSP2-4.5","x":4.1,"y":0.081},{"series":"CESM2 SSP2-4.5","x":4.7,"y":0.083},{"series":"CESM2 SSP2-4.5","x":5.2,"y":0.082},{"series":"CESM2 SSP2-4.5","x":5.8,"y":0.076},{"series":"CESM2 SSP2-4.5","x":6.6,"y":0.062},{"series":"CESM2 SSP2-4.5","x":7.5,"y":0.054},{"series":"CESM2 SSP2-4.5","x":8.4,"y":0.0525},{"series":"CESM2 SSP2-4.5","x":9.3,"y":0.0505},{"series":"CESM2 SSP2-4.5","x":10.2,"y":0.047},{"series":"CESM2 SSP2-4.5","x":11.1,"y":0.042},{"series":"CESM2 SSP2-4.5","x":12,"y":0.033},{"series":"CESM2 SSP2-4.5","x":12.8,"y":0.024},{"series":"CESM2 SSP2-4.5","x":13.5,"y":0.017},{"series":"CESM2 SSP2-4.5","x":14.3,"y":0.011},{"series":"CESM2 SSP2-4.5","x":15,"y":0.008},{"series":"CESM2 SSP2-4.5","x":15.8,"y":0.0048},{"series":"CESM2 SSP2-4.5","x":17,"y":0.0025},{"series":"CESM2 SSP2-4.5","x":18.2,"y":0.0015},{"series":"CESM2 SSP2-4.5","x":19.5,"y":0.0008},{"series":"CESM2 SSP2-4.5","x":21,"y":0.0003},{"series":"CESM2 SSP2-4.5","x":23,"y":0}
],
"f": [
{"series":"UKESM1 SAI","x":-1.7,"y":0},{"series":"UKESM1 SAI","x":-1.36,"y":0.003},{"series":"UKESM1 SAI","x":-1.02,"y":0.016},{"series":"UKESM1 SAI","x":-0.79,"y":0.051},{"series":"UKESM1 SAI","x":-0.56,"y":0.12},{"series":"UKESM1 SAI","x":-0.36,"y":0.194},{"series":"UKESM1 SAI","x":-0.16,"y":0.258},{"series":"UKESM1 SAI","x":0.02,"y":0.307},{"series":"UKESM1 SAI","x":0.22,"y":0.331},{"series":"UKESM1 SAI","x":0.42,"y":0.307},{"series":"UKESM1 SAI","x":0.59,"y":0.258},{"series":"UKESM1 SAI","x":0.79,"y":0.209},{"series":"UKESM1 SAI","x":1.08,"y":0.16},{"series":"UKESM1 SAI","x":1.45,"y":0.125},{"series":"UKESM1 SAI","x":1.94,"y":0.101},{"series":"UKESM1 SAI","x":2.5,"y":0.096},{"series":"UKESM1 SAI","x":3,"y":0.093},{"series":"UKESM1 SAI","x":3.6,"y":0.094},{"series":"UKESM1 SAI","x":4.1,"y":0.09},{"series":"UKESM1 SAI","x":4.6,"y":0.08},{"series":"UKESM1 SAI","x":5,"y":0.071},{"series":"UKESM1 SAI","x":5.7,"y":0.051},{"series":"UKESM1 SAI","x":6.4,"y":0.036},{"series":"UKESM1 SAI","x":7.1,"y":0.026},{"series":"UKESM1 SAI","x":7.8,"y":0.019},{"series":"UKESM1 SAI","x":8.7,"y":0.014},{"series":"UKESM1 SAI","x":9.6,"y":0.0115},{"series":"UKESM1 SAI","x":10.7,"y":0.009},{"series":"UKESM1 SAI","x":11.9,"y":0.0065},{"series":"UKESM1 SAI","x":13,"y":0.004},{"series":"UKESM1 SAI","x":14.2,"y":0.0025},{"series":"UKESM1 SAI","x":15.3,"y":0.0015},{"series":"UKESM1 SAI","x":16.5,"y":0.0005},{"series":"UKESM1 SAI","x":18,"y":0.0001},{"series":"UKESM1 SAI","x":20,"y":0},
{"series":"UKESM1 SSP2-4.5","x":-1.25,"y":0},{"series":"UKESM1 SSP2-4.5","x":-0.93,"y":0.007},{"series":"UKESM1 SSP2-4.5","x":-0.7,"y":0.031},{"series":"UKESM1 SSP2-4.5","x":-0.5,"y":0.082},{"series":"UKESM1 SSP2-4.5","x":-0.33,"y":0.145},{"series":"UKESM1 SSP2-4.5","x":-0.16,"y":0.209},{"series":"UKESM1 SSP2-4.5","x":0.02,"y":0.258},{"series":"UKESM1 SSP2-4.5","x":0.22,"y":0.293},{"series":"UKESM1 SSP2-4.5","x":0.42,"y":0.268},{"series":"UKESM1 SSP2-4.5","x":0.65,"y":0.219},{"series":"UKESM1 SSP2-4.5","x":0.94,"y":0.17},{"series":"UKESM1 SSP2-4.5","x":1.28,"y":0.13},{"series":"UKESM1 SSP2-4.5","x":1.8,"y":0.097},{"series":"UKESM1 SSP2-4.5","x":2.4,"y":0.089},{"series":"UKESM1 SSP2-4.5","x":3.2,"y":0.087},{"series":"UKESM1 SSP2-4.5","x":4,"y":0.088},{"series":"UKESM1 SSP2-4.5","x":4.5,"y":0.086},{"series":"UKESM1 SSP2-4.5","x":4.9,"y":0.079},{"series":"UKESM1 SSP2-4.5","x":5.5,"y":0.061},{"series":"UKESM1 SSP2-4.5","x":6.2,"y":0.043},{"series":"UKESM1 SSP2-4.5","x":7,"y":0.03},{"series":"UKESM1 SSP2-4.5","x":7.8,"y":0.0227},{"series":"UKESM1 SSP2-4.5","x":8.7,"y":0.018},{"series":"UKESM1 SSP2-4.5","x":9.8,"y":0.014},{"series":"UKESM1 SSP2-4.5","x":11,"y":0.0104},{"series":"UKESM1 SSP2-4.5","x":12.1,"y":0.008},{"series":"UKESM1 SSP2-4.5","x":13.3,"y":0.006},{"series":"UKESM1 SSP2-4.5","x":14.4,"y":0.004},{"series":"UKESM1 SSP2-4.5","x":15.6,"y":0.0025},{"series":"UKESM1 SSP2-4.5","x":16.7,"y":0.001},{"series":"UKESM1 SSP2-4.5","x":18.5,"y":0.0004},{"series":"UKESM1 SSP2-4.5","x":21,"y":0.0001},{"series":"UKESM1 SSP2-4.5","x":23,"y":0},
{"series":"CESM2 SAI","x":-1.2,"y":0},{"series":"CESM2 SAI","x":-1.02,"y":0.003},{"series":"CESM2 SAI","x":-0.73,"y":0.019},{"series":"CESM2 SAI","x":-0.5,"y":0.054},{"series":"CESM2 SAI","x":-0.26,"y":0.103},{"series":"CESM2 SAI","x":-0.06,"y":0.16},{"series":"CESM2 SAI","x":0.14,"y":0.209},{"series":"CESM2 SAI","x":0.36,"y":0.233},{"series":"CESM2 SAI","x":0.65,"y":0.199},{"series":"CESM2 SAI","x":0.94,"y":0.154},{"series":"CESM2 SAI","x":1.28,"y":0.115},{"series":"CESM2 SAI","x":1.65,"y":0.08},{"series":"CESM2 SAI","x":2.08,"y":0.059},{"series":"CESM2 SAI","x":2.66,"y":0.046},{"series":"CESM2 SAI","x":3.5,"y":0.036},{"series":"CESM2 SAI","x":4.2,"y":0.0332},{"series":"CESM2 SAI","x":4.9,"y":0.036},{"series":"CESM2 SAI","x":5.6,"y":0.043},{"series":"CESM2 SAI","x":6.3,"y":0.046},{"series":"CESM2 SAI","x":7,"y":0.046},{"series":"CESM2 SAI","x":7.8,"y":0.041},{"series":"CESM2 SAI","x":8.7,"y":0.0335},{"series":"CESM2 SAI","x":9.6,"y":0.031},{"series":"CESM2 SAI","x":10.7,"y":0.0286},{"series":"CESM2 SAI","x":11.9,"y":0.0262},{"series":"CESM2 SAI","x":13,"y":0.0212},{"series":"CESM2 SAI","x":14.15,"y":0.0153},{"series":"CESM2 SAI","x":15.3,"y":0.0089},{"series":"CESM2 SAI","x":16.4,"y":0.005},{"series":"CESM2 SAI","x":17.6,"y":0.0025},{"series":"CESM2 SAI","x":18.8,"y":0.001},{"series":"CESM2 SAI","x":20.5,"y":0.0003},{"series":"CESM2 SAI","x":23,"y":0},
{"series":"CESM2 SSP2-4.5","x":-2.4,"y":0},{"series":"CESM2 SSP2-4.5","x":-2.08,"y":0.0015},{"series":"CESM2 SSP2-4.5","x":-1.65,"y":0.009},{"series":"CESM2 SSP2-4.5","x":-1.22,"y":0.031},{"series":"CESM2 SSP2-4.5","x":-0.79,"y":0.0705},{"series":"CESM2 SSP2-4.5","x":-0.5,"y":0.11},{"series":"CESM2 SSP2-4.5","x":-0.21,"y":0.16},{"series":"CESM2 SSP2-4.5","x":0.08,"y":0.219},{"series":"CESM2 SSP2-4.5","x":0.31,"y":0.2457},{"series":"CESM2 SSP2-4.5","x":0.59,"y":0.219},{"series":"CESM2 SSP2-4.5","x":0.88,"y":0.17},{"series":"CESM2 SSP2-4.5","x":1.22,"y":0.12},{"series":"CESM2 SSP2-4.5","x":1.65,"y":0.082},{"series":"CESM2 SSP2-4.5","x":2.08,"y":0.061},{"series":"CESM2 SSP2-4.5","x":2.7,"y":0.047},{"series":"CESM2 SSP2-4.5","x":3.4,"y":0.041},{"series":"CESM2 SSP2-4.5","x":4.1,"y":0.0395},{"series":"CESM2 SSP2-4.5","x":4.8,"y":0.044},{"series":"CESM2 SSP2-4.5","x":5.5,"y":0.047},{"series":"CESM2 SSP2-4.5","x":6.2,"y":0.044},{"series":"CESM2 SSP2-4.5","x":6.9,"y":0.039},{"series":"CESM2 SSP2-4.5","x":7.8,"y":0.034},{"series":"CESM2 SSP2-4.5","x":8.9,"y":0.03},{"series":"CESM2 SSP2-4.5","x":10.1,"y":0.029},{"series":"CESM2 SSP2-4.5","x":11.3,"y":0.027},{"series":"CESM2 SSP2-4.5","x":12.5,"y":0.022},{"series":"CESM2 SSP2-4.5","x":13.6,"y":0.017},{"series":"CESM2 SSP2-4.5","x":14.8,"y":0.0118},{"series":"CESM2 SSP2-4.5","x":15.9,"y":0.007},{"series":"CESM2 SSP2-4.5","x":17.1,"y":0.0035},{"series":"CESM2 SSP2-4.5","x":18.2,"y":0.0015},{"series":"CESM2 SSP2-4.5","x":19.5,"y":0.0006},{"series":"CESM2 SSP2-4.5","x":21,"y":0.0002},{"series":"CESM2 SSP2-4.5","x":24,"y":0.0001},{"series":"CESM2 SSP2-4.5","x":26.8,"y":0}
]
},
"resolve": {"scale": {"x": "independent", "y": "independent", "fill": "independent", "stroke": "independent"}, "legend": {"fill": "independent", "stroke": "independent"}},
"concat": [
{
"width": 369, "height": 235,
"title": "(a) Sahel Temperature PDFs",
"data": {"name": "a"},
"mark": {"type": "area", "interpolate": "monotone", "fillOpacity": 0.25, "strokeOpacity": 1, "strokeWidth": 1.2},
"encoding": {
"x": {"field": "x", "type": "quantitative", "scale": {"domain": [284.8, 315.8], "nice": false, "zero": false}, "axis": {"title": "Temperature (K)", "values": [285, 290, 295, 300, 305, 310, 315], "format": "d"}},
"y": {"field": "y", "type": "quantitative", "stack": null, "scale": {"domain": [0, 0.1806], "nice": false}, "axis": {"title": "Density", "values": [0, 0.025, 0.05, 0.075, 0.1, 0.125, 0.15, 0.175], "format": ".3f"}},
"fill": {"field": "series", "type": "nominal", "scale": {"domain": ["UKESM1 SAI", "UKESM1 SSP2-4.5", "CESM2 SAI", "CESM2 SSP2-4.5"], "range": ["#0000ff", "#ffa500", "#800080", "#008000"]}, "legend": {"title": null, "orient": "top-left", "offset": 6, "padding": 3, "symbolType": "M-2,-0.667H2V0.667H-2Z", "symbolSize": 144, "symbolStrokeWidth": 1.2, "labelFontSize": 12, "labelOffset": 14, "symbolOffset": 8, "rowPadding": 4.8, "strokeColor": "#cccccc", "fillColor": "rgba(255,255,255,0.8)", "cornerRadius": 3, "encode": {"symbols": {"update": {"fillOpacity": {"value": 0.25}, "strokeOpacity": {"value": 1}}}}}},
"stroke": {"field": "series", "type": "nominal", "scale": {"domain": ["UKESM1 SAI", "UKESM1 SSP2-4.5", "CESM2 SAI", "CESM2 SSP2-4.5"], "range": ["#0000ff", "#ffa500", "#800080", "#008000"]}, "legend": {"title": null, "orient": "top-left", "offset": 6, "padding": 3, "symbolType": "M-2,-0.667H2V0.667H-2Z", "symbolSize": 144, "symbolStrokeWidth": 1.2, "labelFontSize": 12, "labelOffset": 14, "symbolOffset": 8, "rowPadding": 4.8, "strokeColor": "#cccccc", "fillColor": "rgba(255,255,255,0.8)", "cornerRadius": 3, "encode": {"symbols": {"update": {"fillOpacity": {"value": 0.25}, "strokeOpacity": {"value": 1}}}}}}
}
},
{
"width": 369, "height": 235,
"title": "(b) Guinea Coast Temperature PDFs",
"data": {"name": "b"},
"mark": {"type": "area", "interpolate": "monotone", "fillOpacity": 0.25, "strokeOpacity": 1, "strokeWidth": 1.2},
"encoding": {
"x": {"field": "x", "type": "quantitative", "scale": {"domain": [294.76, 308.6], "nice": false, "zero": false}, "axis": {"title": "Temperature (K)", "values": [296, 298, 300, 302, 304, 306, 308], "format": "d"}},
"y": {"field": "y", "type": "quantitative", "stack": null, "scale": {"domain": [0, 0.393], "nice": false}, "axis": {"title": "Density", "values": [0, 0.05, 0.1, 0.15, 0.2, 0.25, 0.3, 0.35], "format": ".2f"}},
"fill": {"field": "series", "type": "nominal", "scale": {"domain": ["UKESM1 SAI", "UKESM1 SSP2-4.5", "CESM2 SAI", "CESM2 SSP2-4.5"], "range": ["#0000ff", "#ffa500", "#800080", "#008000"]}, "legend": null},
"stroke": {"field": "series", "type": "nominal", "scale": {"domain": ["UKESM1 SAI", "UKESM1 SSP2-4.5", "CESM2 SAI", "CESM2 SSP2-4.5"], "range": ["#0000ff", "#ffa500", "#800080", "#008000"]}, "legend": null}
}
},
{
"width": 370, "height": 235,
"title": "(c) Inland Temperature PDFs",
"data": {"name": "c"},
"mark": {"type": "area", "interpolate": "monotone", "fillOpacity": 0.25, "strokeOpacity": 1, "strokeWidth": 1.2},
"encoding": {
"x": {"field": "x", "type": "quantitative", "scale": {"domain": [290.8, 313.0], "nice": false, "zero": false}, "axis": {"title": "Temperature (K)", "values": [292.5, 295, 297.5, 300, 302.5, 305, 307.5, 310, 312.5], "format": ".1f"}},
"y": {"field": "y", "type": "quantitative", "stack": null, "scale": {"domain": [0, 0.378], "nice": false}, "axis": {"title": "Density", "values": [0, 0.05, 0.1, 0.15, 0.2, 0.25, 0.3, 0.35], "format": ".2f"}},
"fill": {"field": "series", "type": "nominal", "scale": {"domain": ["UKESM1 SAI", "UKESM1 SSP2-4.5", "CESM2 SAI", "CESM2 SSP2-4.5"], "range": ["#0000ff", "#ffa500", "#800080", "#008000"]}, "legend": null},
"stroke": {"field": "series", "type": "nominal", "scale": {"domain": ["UKESM1 SAI", "UKESM1 SSP2-4.5", "CESM2 SAI", "CESM2 SSP2-4.5"], "range": ["#0000ff", "#ffa500", "#800080", "#008000"]}, "legend": null}
}
},
{
"width": 369, "height": 235,
"title": "(d) Sahel Precipitation PDFs",
"data": {"name": "d"},
"mark": {"type": "area", "interpolate": "monotone", "fillOpacity": 0.25, "strokeOpacity": 1, "strokeWidth": 1.2},
"encoding": {
"x": {"field": "x", "type": "quantitative", "scale": {"domain": [-1.36, 13.55], "nice": false, "zero": false}, "axis": {"title": "Precipitation (mm)", "values": [0, 2, 4, 6, 8, 10, 12], "format": "d"}},
"y": {"field": "y", "type": "quantitative", "stack": null, "scale": {"domain": [0, 2.035], "nice": false}, "axis": {"title": "Density", "values": [0, 0.25, 0.5, 0.75, 1, 1.25, 1.5, 1.75, 2], "format": ".2f"}},
"fill": {"field": "series", "type": "nominal", "scale": {"domain": ["UKESM1 SAI", "UKESM1 SSP2-4.5", "CESM2 SAI", "CESM2 SSP2-4.5"], "range": ["#0000ff", "#ffa500", "#800080", "#008000"]}, "legend": null},
"stroke": {"field": "series", "type": "nominal", "scale": {"domain": ["UKESM1 SAI", "UKESM1 SSP2-4.5", "CESM2 SAI", "CESM2 SSP2-4.5"], "range": ["#0000ff", "#ffa500", "#800080", "#008000"]}, "legend": null}
}
},
{
"width": 369, "height": 235,
"title": "(e) Guinea Coast Precipitation PDFs",
"data": {"name": "e"},
"mark": {"type": "area", "interpolate": "monotone", "fillOpacity": 0.25, "strokeOpacity": 1, "strokeWidth": 1.2},
"encoding": {
"x": {"field": "x", "type": "quantitative", "scale": {"domain": [-3.59, 28.98], "nice": false, "zero": false}, "axis": {"title": "Precipitation (mm)", "values": [0, 5, 10, 15, 20, 25], "format": "d"}},
"y": {"field": "y", "type": "quantitative", "stack": null, "scale": {"domain": [0, 0.2111], "nice": false}, "axis": {"title": "Density", "values": [0, 0.025, 0.05, 0.075, 0.1, 0.125, 0.15, 0.175, 0.2], "format": ".3f"}},
"fill": {"field": "series", "type": "nominal", "scale": {"domain": ["UKESM1 SAI", "UKESM1 SSP2-4.5", "CESM2 SAI", "CESM2 SSP2-4.5"], "range": ["#0000ff", "#ffa500", "#800080", "#008000"]}, "legend": null},
"stroke": {"field": "series", "type": "nominal", "scale": {"domain": ["UKESM1 SAI", "UKESM1 SSP2-4.5", "CESM2 SAI", "CESM2 SSP2-4.5"], "range": ["#0000ff", "#ffa500", "#800080", "#008000"]}, "legend": null}
}
},
{
"width": 370, "height": 235,
"title": "(f) Inland Precipitation PDFs",
"data": {"name": "f"},
"mark": {"type": "area", "interpolate": "monotone", "fillOpacity": 0.25, "strokeOpacity": 1, "strokeWidth": 1.2},
"encoding": {
"x": {"field": "x", "type": "quantitative", "scale": {"domain": [-3.64, 28.26], "nice": false, "zero": false}, "axis": {"title": "Precipitation (mm)", "values": [0, 5, 10, 15, 20, 25], "format": "d"}},
"y": {"field": "y", "type": "quantitative", "stack": null, "scale": {"domain": [0, 0.348], "nice": false}, "axis": {"title": "Density", "values": [0, 0.05, 0.1, 0.15, 0.2, 0.25, 0.3], "format": ".2f"}},
"fill": {"field": "series", "type": "nominal", "scale": {"domain": ["UKESM1 SAI", "UKESM1 SSP2-4.5", "CESM2 SAI", "CESM2 SSP2-4.5"], "range": ["#0000ff", "#ffa500", "#800080", "#008000"]}, "legend": null},
"stroke": {"field": "series", "type": "nominal", "scale": {"domain": ["UKESM1 SAI", "UKESM1 SSP2-4.5", "CESM2 SAI", "CESM2 SSP2-4.5"], "range": ["#0000ff", "#ffa500", "#800080", "#008000"]}, "legend": null}
}
}
],
"config": {
"font": "DejaVu Sans",
"view": {"stroke": "#262626", "strokeWidth": 1},
"axis": {"grid": false, "domainColor": "#262626", "domainWidth": 1, "tickColor": "#262626", "tickWidth": 1, "tickSize": 4, "labelColor": "#000000", "titleColor": "#000000", "labelFontSize": 12, "titleFontSize": 12, "titleFontWeight": "normal", "labelPadding": 3, "titlePadding": 5, "labelFlush": false, "labelOverlap": false, "zindex": 1},
"title": {"fontSize": 14.4, "fontWeight": "normal", "color": "#000000", "offset": 6, "anchor": "middle"},
"legend": {"labelColor": "#000000", "labelFont": "DejaVu Sans"}
}
}
